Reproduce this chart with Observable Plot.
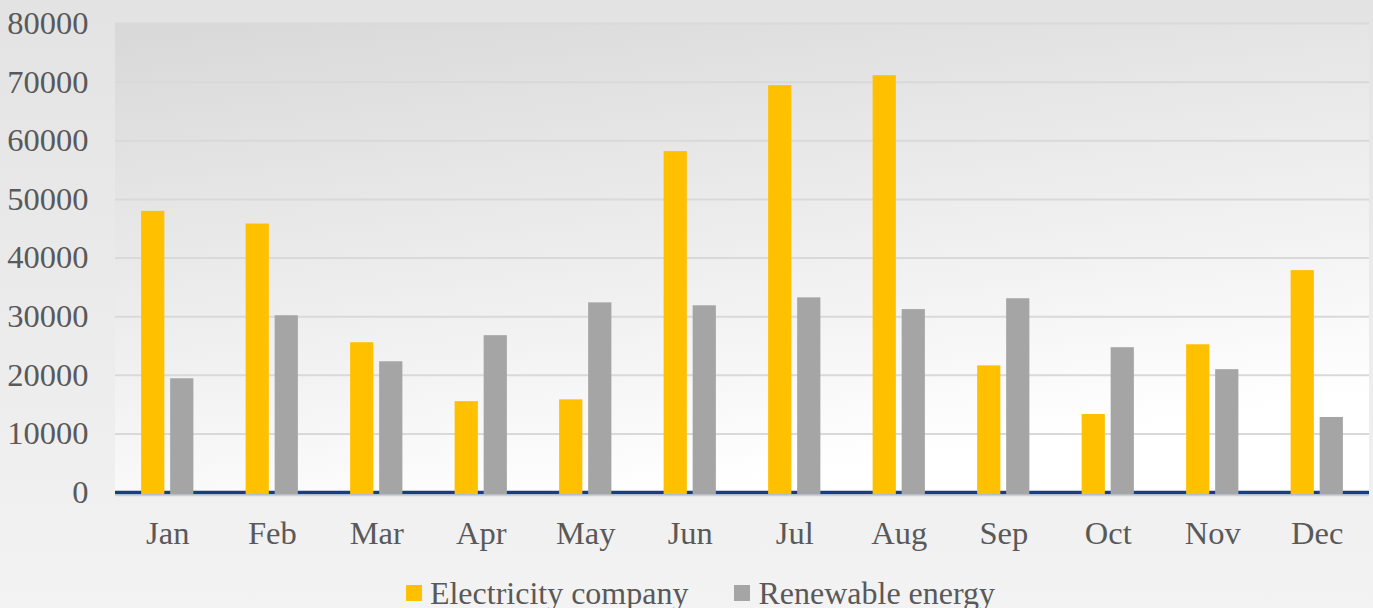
<!DOCTYPE html>
<html>
<head>
<meta charset="utf-8">
<script src="https://cdn.jsdelivr.net/npm/d3@7"></script>
<script src="https://cdn.jsdelivr.net/npm/@observablehq/plot@0.6"></script>
<style>
  html, body { margin: 0; padding: 0; }
  body {
    width: 1373px; height: 608px; overflow: hidden;
    background: linear-gradient(180deg, #e3e3e3 0%, #ebebeb 50%, #f3f3f3 100%);
    font-family: "Liberation Serif", "Times New Roman", serif;
  }
  #wrap { position: relative; width: 1373px; height: 560px; }
  #plotbg { position: absolute; background: linear-gradient(172deg, #d8d8d8 0%, #e6e6e6 30%, #f3f3f3 60%, #ffffff 85%); }
  #chart { position: absolute; left: 0; top: 0; }
  #legend { display: flex; justify-content: center; align-items: center; height: 48px; margin-top: 9px; padding-left: 28px; font-size: 32px; color: #595959; gap: 46px; }
  .item { display: flex; align-items: center; gap: 8px; }
  .sw { width: 16px; height: 16px; display: inline-block; }
</style>
</head>
<body>
<div id="wrap"><div id="plotbg"></div><div id="chart"></div></div>
<div id="legend"></div>
<script>
const months = ["Jan","Feb","Mar","Apr","May","Jun","Jul","Aug","Sep","Oct","Nov","Dec"];
const electricity = [47950, 45800, 25550, 15500, 15800, 58150, 69400, 71100, 21600, 13300, 25200, 37850];
const renewable = [19400, 30150, 22300, 26750, 32350, 31850, 33200, 31200, 33050, 24700, 20950, 12800];
const seriesNames = ["Electricity company", "Renewable energy"];
const seriesColors = ["#FFC000", "#A5A5A5"];
const yTicks = [0, 10000, 20000, 30000, 40000, 50000, 60000, 70000, 80000];

const elecRows = months.map((m, i) => ({month: m, series: seriesNames[0], value: electricity[i]}));
const renewRows = months.map((m, i) => ({month: m, series: seriesNames[1], value: renewable[i]}));

const W = 1373, H = 560, ML = 115, MR = 4, MT = 23, MB = 68;

// geometry of the two bars inside each month band (styling only)
const band = (W - ML - MR) / months.length;
const pIn = 0.2, pOut = 0.9;
const step = band / (2 - pIn + 2 * pOut);
const bw = step * (1 - pIn);
const start = pOut * step;
const elecInset = {insetLeft: start, insetRight: band - start - bw};
const renewInset = {insetLeft: start + step, insetRight: band - start - step - bw};

const plot = Plot.plot({
  width: W, height: H,
  marginLeft: ML, marginRight: MR, marginTop: MT, marginBottom: MB,
  style: {background: "transparent", fontFamily: "'Liberation Serif', 'Times New Roman', serif", fontSize: "32.5px", color: "#595959", overflow: "visible"},
  x: {domain: months, padding: 0, round: false, label: null, tickSize: 0, tickPadding: 28},
  y: {domain: [0, 80000], ticks: yTicks, tickSize: 0, tickPadding: 27, tickFormat: d => String(d), label: null},
  color: {domain: seriesNames, range: seriesColors},
  marks: [
    Plot.ruleY(yTicks.slice(1), {stroke: "#d9d9d9", strokeWidth: 2}),
    Plot.ruleY([0], {stroke: "#d0d0d0", strokeWidth: 1.5, dy: 3}),
    Plot.ruleY([0], {stroke: "#173e7e", strokeWidth: 3.5}),
    Plot.barY(elecRows, {x: "month", y: "value", fill: "series", insetBottom: -2, ...elecInset}),
    Plot.barY(renewRows, {x: "month", y: "value", fill: "series", insetBottom: -2, ...renewInset})
  ]
});
document.getElementById("chart").appendChild(plot);

const bg = document.getElementById("plotbg");
bg.style.left = ML + "px";
bg.style.top = MT + "px";
bg.style.width = (W - ML - MR) + "px";
bg.style.height = (H - MT - MB) + "px";

const legend = document.getElementById("legend");
seriesNames.forEach((s, i) => {
  const it = document.createElement("div");
  it.className = "item";
  const sw = document.createElement("span");
  sw.className = "sw";
  sw.style.background = seriesColors[i];
  const t = document.createElement("span");
  t.textContent = s;
  it.appendChild(sw); it.appendChild(t);
  legend.appendChild(it);
});
</script>
</body>
</html>
